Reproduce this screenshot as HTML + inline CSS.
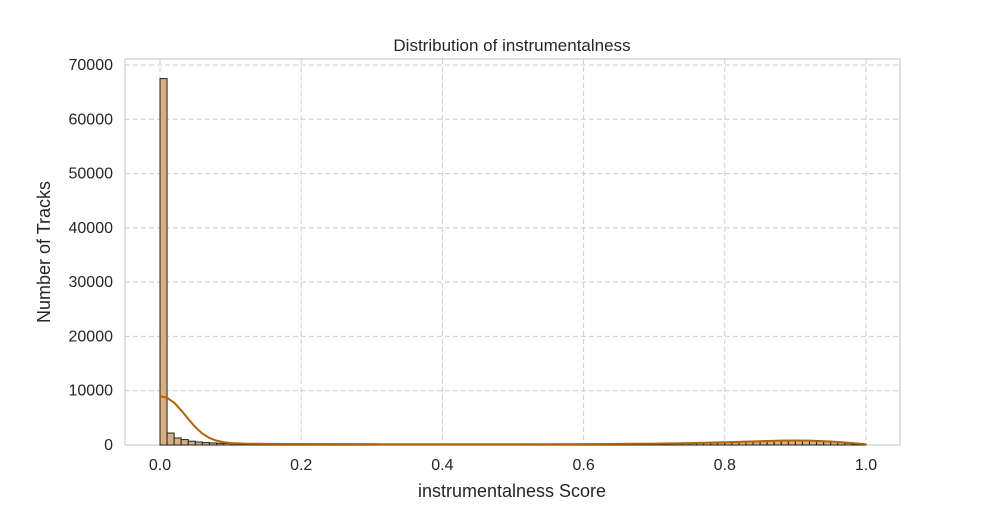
<!DOCTYPE html>
<html><head><meta charset="utf-8"><style>
body{margin:0;background:#fff;font-family:"Liberation Sans","DejaVu Sans",sans-serif}
svg text{font-family:"Liberation Sans","DejaVu Sans",sans-serif;fill:#262626}
</style></head><body>
<svg id="c" width="1000" height="500"></svg>
<script>
const counts=[67500,2200,1300,1000,700,550,450,380,320,280,250,220,200,180,170,160,150,140,130,120,115,110,105,100,100,95,95,90,90,90,85,85,85,85,85,85,85,85,85,85,90,90,90,90,90,95,95,95,100,100,100,105,105,110,110,115,120,120,125,130,135,140,150,155,160,170,180,190,200,210,230,250,270,290,320,350,380,410,440,470,500,540,580,620,660,700,740,760,780,800,800,790,760,720,650,560,450,330,200,90];
const kdeX=[0,0.01,0.02,0.03,0.04,0.05,0.06,0.07,0.08,0.09,0.1,0.12,0.15,0.2,0.3,0.4,0.5,0.6,0.7,0.75,0.8,0.85,0.88,0.9,0.92,0.95,0.97,1.0];
const kdeY=[9000,8700,7800,6400,4800,3300,2100,1300,800,500,350,250,200,180,150,130,130,160,250,350,500,700,800,820,800,650,450,150];
const yTicks=[0,10000,20000,30000,40000,50000,60000,70000];
const xTicks=[0,0.2,0.4,0.6,0.8,1.0];
const NS="http://www.w3.org/2000/svg",svg=document.getElementById('c');
const L=125,R=900,T=59,B=445;
const xs=v=>160+v*706, ys=v=>B-v*380/70000;
function mk(t,a,p){const e=document.createElementNS(NS,t);for(const k in a)e.setAttribute(k,a[k]);(p||svg).appendChild(e);return e;}
let e=mk('rect',{x:L,y:T,width:R-L,height:B-T,fill:'#fff',stroke:'#ccc','stroke-width':1.2});


yTicks.forEach(v=>{
 e=mk('line',{x1:L,x2:R,y1:ys(v),y2:ys(v),stroke:'#ccc','stroke-dasharray':'5,3'});
 
 
 e=mk('text',{x:L-12,y:ys(v)+5,'text-anchor':'end','font-size':16});e.textContent=v;
 
 
});
xTicks.forEach(v=>{
 e=mk('line',{x1:xs(v),x2:xs(v),y1:T,y2:B,stroke:'#ccc','stroke-dasharray':'5,3'});
 
 
 e=mk('text',{x:xs(v),y:B+25,'text-anchor':'middle','font-size':16});e.textContent=v.toFixed(1);
 
 
});
counts.forEach((c,i)=>{
 e=mk('rect',{x:xs(i/100),y:ys(c),width:xs(0.01)-xs(0),height:B-ys(c),fill:'#d5b080',stroke:'#222','stroke-width':1});
 
 
});
e=mk('path',{d:kdeX.map((x,i)=>(i?'L':'M')+xs(x)+','+ys(kdeY[i])).join(''),fill:'none',stroke:'#b0650a','stroke-width':2});


e=mk('text',{x:512,y:51,'text-anchor':'middle','font-size':17});e.textContent='Distribution of instrumentalness';


e=mk('text',{x:512,y:497,'text-anchor':'middle','font-size':18});e.textContent='instrumentalness Score';


e=mk('text',{x:50,y:252,'text-anchor':'middle','font-size':18,transform:'rotate(-90 50 252)'});e.textContent='Number of Tracks';


</script>
</body></html>
